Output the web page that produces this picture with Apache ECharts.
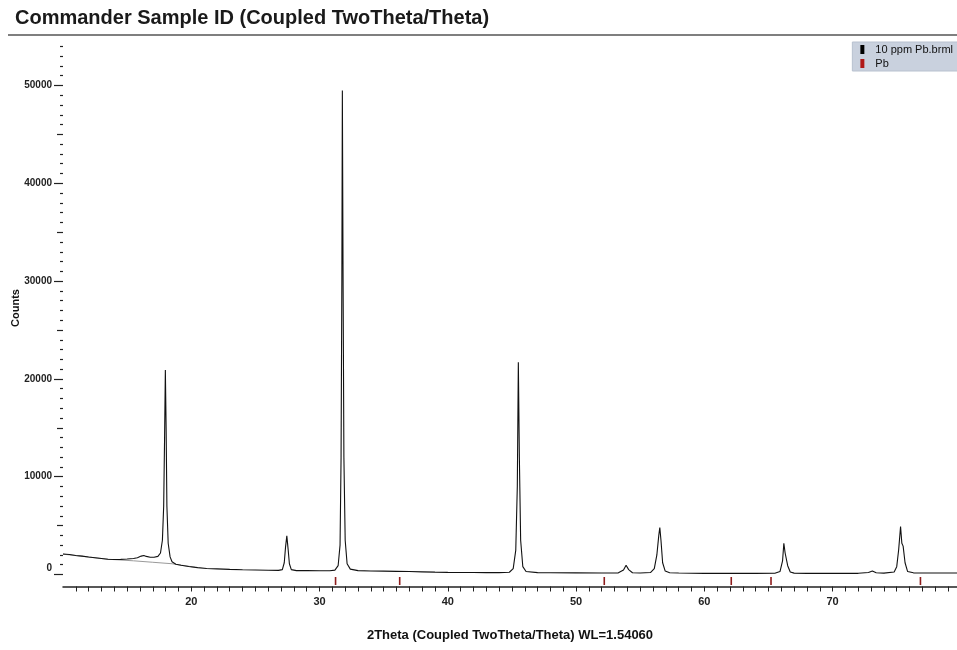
<!DOCTYPE html>
<html>
<head>
<meta charset="utf-8">
<script src="https://cdn.jsdelivr.net/npm/echarts@6/dist/echarts.min.js"></script>
<style>
  html, body { margin: 0; padding: 0; background: #fff; }
  #chart { width: 957px; height: 650px; }
</style>
</head>
<body>
<div id="chart"></div>
<script>
// ---- Data ----
const titleText = 'Commander Sample ID (Coupled TwoTheta/Theta)';
const xTitle = '2Theta (Coupled TwoTheta/Theta) WL=1.54060';
const yTitle = 'Counts';
const seriesName = '10 ppm Pb.brml';
const refName = 'Pb';

// measured pattern: [2theta, counts]
const pattern = [
  [10.0, 2100], [10.5, 2050], [11.0, 1950], [11.5, 1880], [12.0, 1790], [12.5, 1720],
  [13.0, 1640], [13.5, 1560], [14.0, 1530], [14.5, 1550], [15.0, 1580], [15.5, 1640],
  [15.8, 1720], [16.1, 1880], [16.3, 1950], [16.5, 1850], [16.8, 1760], [17.1, 1760],
  [17.4, 1850], [17.6, 2200], [17.75, 3500], [17.85, 7000], [17.92, 14000], [17.98, 20900],
  [18.04, 15000], [18.1, 7000], [18.2, 3200], [18.35, 1800], [18.5, 1300], [18.8, 1050],
  [19.2, 950], [19.8, 820], [20.5, 700], [21.2, 620], [22.0, 580], [23.0, 520],
  [24.0, 480], [25.0, 460], [26.0, 440], [26.8, 420], [27.1, 500], [27.25, 1200],
  [27.35, 2800], [27.45, 3950], [27.55, 2600], [27.65, 1100], [27.8, 500], [28.2, 400],
  [29.0, 400], [30.0, 380], [30.8, 380], [31.2, 450], [31.45, 900], [31.6, 3000],
  [31.68, 12000], [31.74, 30000], [31.78, 49500], [31.83, 32000], [31.9, 12000], [32.0, 3500],
  [32.15, 1100], [32.4, 550], [33.0, 400], [34.0, 360], [35.0, 340], [36.0, 320],
  [37.0, 300], [38.0, 270], [39.0, 240], [40.0, 220], [41.0, 210], [42.0, 200],
  [43.0, 190], [44.0, 190], [44.8, 230], [45.1, 600], [45.3, 2500], [45.42, 9000],
  [45.5, 21700], [45.58, 12000], [45.68, 3500], [45.85, 800], [46.1, 300], [47.0, 190],
  [48.0, 180], [50.0, 170], [52.0, 160], [53.3, 170], [53.7, 450], [53.9, 950],
  [54.1, 500], [54.4, 180], [55.0, 160], [55.8, 200], [56.1, 600], [56.3, 2000],
  [56.45, 4000], [56.53, 4800], [56.62, 3500], [56.75, 1200], [56.95, 350], [57.3, 180],
  [58.0, 150], [60.0, 120], [62.0, 110], [64.0, 110], [65.5, 130], [65.9, 300],
  [66.1, 1400], [66.2, 3200], [66.3, 2200], [66.4, 2000], [66.5, 900], [66.7, 250],
  [67.0, 140], [68.0, 120], [70.0, 110], [72.0, 120], [72.8, 200], [73.1, 350],
  [73.4, 180], [74.0, 140], [74.8, 250], [75.0, 800], [75.15, 2500], [75.3, 4900],
  [75.4, 3200], [75.5, 2900], [75.65, 1200], [75.85, 300], [76.3, 170], [77.0, 150],
  [78.0, 160], [79.7, 160]
];

// fitted background curve (grey) under the low-angle region
const background = [
  [10.0, 2080], [12.0, 1780], [13.5, 1560], [15.5, 1400], [17.0, 1250],
  [18.5, 1100], [19.5, 900], [20.3, 740]
];

// Pb reference stick positions (2theta)
const pbPositions = [31.25, 36.25, 52.2, 62.1, 65.2, 76.85];

// axis ticks / labels
const xLabelValues = [20, 30, 40, 50, 60, 70];
const xTickValues = [];
for (let v = 11; v <= 79; v++) xTickValues.push(v);
const yMajor = [0, 10000, 20000, 30000, 40000, 50000];
const yMid = [5000, 15000, 25000, 35000, 45000];
const yMinor = [];
for (let v = 1000; v <= 54000; v += 1000) if (v % 5000 !== 0) yMinor.push(v);

const X_MIN = 10, X_MAX = 79.7, Y_MIN = 0, Y_MAX = 54500;

const chart = echarts.init(document.getElementById('chart'), null, { renderer: 'canvas' });

const baseY = {
  type: 'value', min: Y_MIN, max: Y_MAX, position: 'left',
  axisLine: { show: false }, splitLine: { show: false }
};

const option = {
  animation: false,
  backgroundColor: '#ffffff',
  textStyle: { fontFamily: 'Liberation Sans, Arial, sans-serif' },
  title: {
    text: titleText, left: 10, top: 3,
    textStyle: { fontSize: 20, fontWeight: 'bold', color: '#1a1a1a', fontFamily: 'Liberation Sans, Arial, sans-serif' }
  },
  legend: {
    orient: 'vertical', right: -20, top: 42,
    backgroundColor: '#c9d1de', borderColor: '#b8c1cf', borderWidth: 1,
    padding: [2, 24, 2, 8], itemGap: 3, itemWidth: 4, itemHeight: 9,
    textStyle: { fontSize: 11, color: '#111', padding: [0, 0, 0, 6] },
    data: [
      { name: seriesName, icon: 'rect', itemStyle: { color: '#000' } },
      { name: refName, icon: 'rect', itemStyle: { color: '#b01818' } }
    ]
  },
  graphic: [
    { type: 'line', shape: { x1: 8, y1: 35, x2: 957, y2: 35 }, style: { stroke: '#555', lineWidth: 1.5 }, silent: true }
  ],
  grid: { left: 63, right: 0, top: 41.5, bottom: 75.5, containLabel: false, outerBoundsMode: 'none' },
  xAxis: {
    type: 'value', min: X_MIN, max: X_MAX, offset: 12,
    name: xTitle, nameLocation: 'middle', nameGap: 42, nameMoveOverlap: false,
    nameTextStyle: { fontSize: 13, fontWeight: 'bold', color: '#111' },
    axisLine: { show: true, onZero: false, lineStyle: { color: '#222', width: 1.5 } },
    axisTick: { show: true, inside: false, length: 5, customValues: xTickValues, lineStyle: { color: '#222' } },
    axisLabel: { customValues: xLabelValues, margin: 10, fontSize: 11, fontWeight: 'bold', color: '#222' },
    splitLine: { show: false }
  },
  yAxis: [
    Object.assign({}, baseY, {
      name: yTitle, nameLocation: 'middle', nameGap: 42, nameMoveOverlap: false,
      nameTextStyle: { fontSize: 11, fontWeight: 'bold', color: '#111' },
      axisTick: { show: true, inside: false, length: 9, customValues: yMajor, lineStyle: { color: '#222', width: 1.2 } },
      axisLabel: {
        customValues: yMajor, margin: 11, fontSize: 10, fontWeight: 'bold', color: '#222',
        formatter: v => v === 0 ? '{z|0}' : String(v),
        rich: { z: { fontSize: 10, fontWeight: 'bold', color: '#222', padding: [0, 0, 12, 0] } }
      }
    }),
    Object.assign({}, baseY, {
      axisTick: { show: true, inside: false, length: 6, customValues: yMid, lineStyle: { color: '#222', width: 1.2 } },
      axisLabel: { show: false }
    }),
    Object.assign({}, baseY, {
      axisTick: { show: true, inside: false, length: 3, customValues: yMinor, lineStyle: { color: '#222', width: 1.2 } },
      axisLabel: { show: false }
    })
  ],
  series: [
    {
      name: 'background', type: 'line', data: background, showSymbol: false, symbol: 'none',
      lineStyle: { color: '#9a9a9a', width: 1 }, silent: true, z: 1
    },
    {
      name: seriesName, type: 'line', data: pattern, showSymbol: false, symbol: 'none',
      sampling: null, lineStyle: { color: '#111', width: 1.1 }, itemStyle: { color: '#000' }, z: 2
    },
    {
      name: refName, type: 'custom', clip: false, itemStyle: { color: '#b01818' },
      data: pbPositions.map(p => [p]),
      encode: { x: 0 },
      renderItem: function (params, api) {
        const p = api.coord([api.value(0), 0]);
        return {
          type: 'line',
          shape: { x1: p[0], y1: p[1] + 2.5, x2: p[0], y2: p[1] + 10.5 },
          style: { stroke: '#8e1c1c', lineWidth: 1.6 }
        };
      }
    }
  ]
};

chart.setOption(option);
</script>
</body>
</html>
